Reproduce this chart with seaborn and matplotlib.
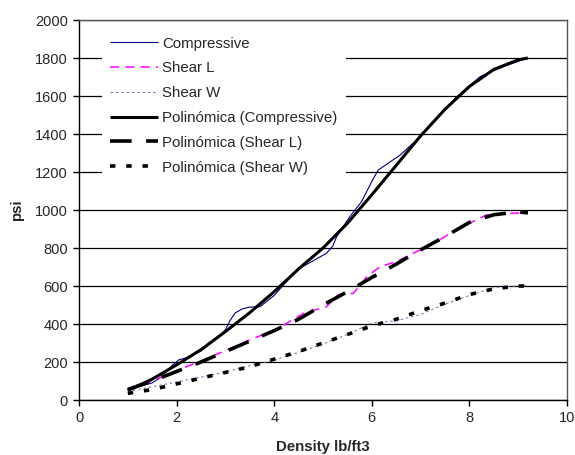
import matplotlib
matplotlib.use("Agg")
import matplotlib.pyplot as plt
import seaborn as sns
import numpy as np

# ---- data ----
comp_x = [1.0, 1.5, 1.7, 1.9, 2.05, 2.2, 2.5, 2.87, 3.0, 3.1, 3.2, 3.35, 3.5, 3.71, 4.0, 4.46, 5.07, 5.2, 5.28, 5.55, 5.79, 6.0, 6.13, 6.3, 6.58, 6.99, 7.4, 7.74, 8.22, 8.7, 9.17]
comp_y = [55, 90, 123, 180, 212, 222, 258, 333, 370, 420, 458, 480, 489, 491, 550, 684, 772, 810, 860, 965, 1044, 1150, 1210, 1240, 1289, 1386, 1500, 1596, 1702, 1755, 1798]

shearL_x = [1.0, 1.5, 2.0, 2.5, 3.0, 3.5, 4.0, 4.2, 4.6, 5.07, 5.31, 5.62, 5.9, 6.17, 6.5, 6.92, 7.3, 7.67, 8.0, 8.35, 8.8, 9.2]
shearL_y = [60, 100, 155, 205, 260, 316, 368, 395, 456, 491, 553, 561, 649, 702, 728, 781, 830, 886, 930, 974, 982, 986]

shearW_x = [1.0, 1.5, 2.0, 2.5, 3.0, 3.5, 4.0, 4.5, 5.0, 5.5, 6.0, 6.5, 7.0, 7.5, 8.0, 8.5, 9.0, 9.2]
shearW_y = [45, 70, 95, 120, 148, 180, 210, 250, 295, 345, 405, 417, 450, 505, 550, 592, 600, 602]

fitC_x = [1.0, 1.5, 2.0, 2.5, 3.0, 3.5, 4.0, 4.5, 5.0, 5.5, 6.0, 6.5, 7.0, 7.5, 8.0, 8.5, 9.0, 9.2]
fitC_y = [50, 110, 185, 265, 360, 460, 570, 690, 800, 930, 1080, 1235, 1390, 1530, 1650, 1740, 1790, 1800]

fitL_x = [1.0, 1.5, 2.0, 2.5, 3.0, 3.5, 4.0, 4.5, 5.0, 5.5, 6.0, 6.5, 7.0, 7.5, 8.0, 8.5, 9.0, 9.2]
fitL_y = [55, 100, 150, 200, 255, 310, 365, 425, 500, 570, 645, 715, 790, 860, 935, 975, 990, 985]

fitW_x = [1.0, 1.5, 2.0, 2.5, 3.0, 3.5, 4.0, 4.5, 5.0, 5.5, 6.0, 6.5, 7.0, 7.5, 8.0, 8.5, 9.0, 9.2]
fitW_y = [35, 55, 85, 115, 145, 175, 215, 255, 300, 345, 390, 425, 470, 510, 555, 585, 600, 600]

labels = ["Compressive", "Shear L", "Shear W",
          "Polinómica (Compressive)", "Polinómica (Shear L)", "Polinómica (Shear W)"]
y_ticks = [0, 200, 400, 600, 800, 1000, 1200, 1400, 1600, 1800, 2000]
x_ticks = [0, 2, 4, 6, 8, 10]

sns.set_theme(style="white")
plt.rcParams['font.family'] = ['Liberation Sans', 'DejaVu Sans']

fig = plt.figure(figsize=(5.75, 4.55), dpi=100)
ax = fig.add_axes([79/575, 1 - 400/455, 488/575, 380/455])

series = [
    (comp_x, comp_y, dict(color="#000080", lw=0.8), None),
    (shearL_x, shearL_y, dict(color="#FF00FF", lw=1.1), (6, 4)),
    (shearW_x, shearW_y, dict(color="#6B6BA8", lw=0.7), (2.5, 3)),
    (fitC_x, fitC_y, dict(color="black", lw=2.2), None),
    (fitL_x, fitL_y, dict(color="black", lw=2.6), (6, 4)),
    (fitW_x, fitW_y, dict(color="black", lw=2.6), (1.5, 3)),
]
for (xs, ys, kw, dash), lab in zip(series, labels):
    sns.lineplot(x=xs, y=ys, ax=ax, label=lab, sort=False, estimator=None, **kw)
    line = ax.lines[-1]
    if dash is not None:
        line.set_dashes(dash)
    line.set_solid_capstyle("butt")
    line.set_dash_capstyle("butt")

ax.set_xlim(0, 10)
ax.set_ylim(0, 2000)
ax.set_xticks(x_ticks)
ax.set_yticks(y_ticks)
ax.set_xticklabels([str(t) for t in x_ticks])
ax.set_yticklabels([str(t) for t in y_ticks])
ax.yaxis.grid(True, color="black", lw=0.9)
ax.set_axisbelow(True)
ax.tick_params(axis="both", which="major", direction="out", length=4, width=1,
               color="black", labelsize=10.5, pad=4, bottom=True, left=True)
for side in ["left", "bottom"]:
    ax.spines[side].set_color("black")
    ax.spines[side].set_linewidth(1)
for side in ["top", "right"]:
    ax.spines[side].set_color("#555555")
    ax.spines[side].set_linewidth(1)

ax.set_xlabel("Density lb/ft3", fontsize=10.8, fontweight="bold", labelpad=11)
ax.set_ylabel("psi", fontsize=10.8, fontweight="bold", labelpad=8)

leg = ax.legend(loc="upper left", bbox_to_anchor=(0.031, 0.998), frameon=True,
                fontsize=10.8, handlelength=3.2, handletextpad=0.27, labelspacing=0.72,
                borderpad=0.55, fancybox=False)
leg.get_frame().set_facecolor("white")
leg.get_frame().set_edgecolor("none")
leg.get_frame().set_alpha(1)

fig.savefig("out.png", dpi=100)
